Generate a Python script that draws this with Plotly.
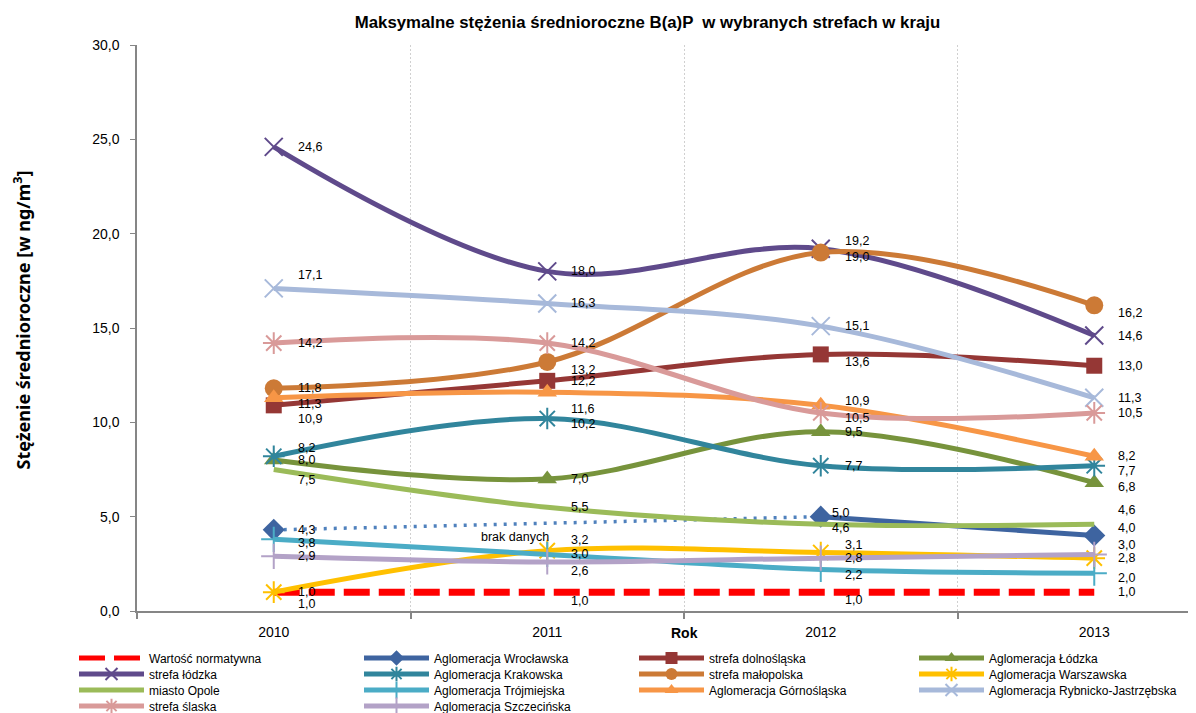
import plotly.graph_objects as go

years = [2010, 2011, 2012, 2013]

norma = [1.0, 1.0, 1.0, 1.0]
wroclawska = [4.3, None, 5.0, 4.0]
dolnoslaska = [10.9, 12.2, 13.6, 13.0]
lodzka_aglo = [8.0, 7.0, 9.5, 6.8]
lodzka_strefa = [24.6, 18.0, 19.2, 14.6]
krakowska = [8.2, 10.2, 7.7, 7.7]
malopolska = [11.8, 13.2, 19.0, 16.2]
warszawska = [1.0, 3.2, 3.1, 2.8]
opole = [7.5, 5.5, 4.6, 4.6]
trojmiejska = [3.8, 3.0, 2.2, 2.0]
gornoslaska = [11.3, 11.6, 10.9, 8.2]
rybnicko = [17.1, 16.3, 15.1, 11.3]
slaska = [14.2, 14.2, 10.5, 10.5]
szczecinska = [2.9, 2.6, 2.8, 3.0]

series = [
    ("Wartość normatywna", norma),
    ("Aglomeracja Wrocławska", wroclawska),
    ("strefa dolnośląska", dolnoslaska),
    ("Aglomeracja Łódzka", lodzka_aglo),
    ("strefa łódzka", lodzka_strefa),
    ("Aglomeracja Krakowska", krakowska),
    ("strefa małopolska", malopolska),
    ("Aglomeracja Warszawska", warszawska),
    ("miasto Opole", opole),
    ("Aglomeracja Trójmiejska", trojmiejska),
    ("Aglomeracja Górnośląska", gornoslaska),
    ("Aglomeracja Rybnicko-Jastrzębska", rybnicko),
    ("strefa ślaska", slaska),
    ("Aglomeracja Szczecińska", szczecinska),
]

# color, marker symbol, marker size
style = {
    "Wartość normatywna": ("#FF0000", None, 0),
    "Aglomeracja Wrocławska": ("#3E64A0", "diamond", 17),
    "strefa dolnośląska": ("#953735", "square", 16),
    "Aglomeracja Łódzka": ("#77933C", "triangle-up", 17),
    "strefa łódzka": ("#5F4A8B", "x-thin-open", 18),
    "Aglomeracja Krakowska": ("#31859C", "asterisk-open", 18),
    "strefa małopolska": ("#CC7A36", "circle", 18),
    "Aglomeracja Warszawska": ("#FFC000", "asterisk-open", 18),
    "miasto Opole": ("#9BBB59", None, 0),
    "Aglomeracja Trójmiejska": ("#4BACC6", "cross-thin-open", 18),
    "Aglomeracja Górnośląska": ("#F79646", "triangle-up", 17),
    "Aglomeracja Rybnicko-Jastrzębska": ("#A7B9DA", "x-thin-open", 18),
    "strefa ślaska": ("#D99A99", "asterisk-open", 18),
    "Aglomeracja Szczecińska": ("#B3A2C7", "cross-thin-open", 18),
}

# label nudges (dx, dy in px; dy>0 moves label down)
nudge = {
    ("Aglomeracja Rybnicko-Jastrzębska", 0): (0, -13),
    ("Aglomeracja Górnośląska", 0): (0, 6),
    ("strefa dolnośląska", 0): (0, 14),
    ("Aglomeracja Krakowska", 0): (0, -8),
    ("miasto Opole", 0): (0, 10),
    ("Wartość normatywna", 0): (0, 12),
    ("Aglomeracja Trójmiejska", 0): (0, 4),
    ("strefa małopolska", 1): (0, 8),
    ("Aglomeracja Górnośląska", 1): (0, 17),
    ("Aglomeracja Krakowska", 1): (0, 5),
    ("Aglomeracja Warszawska", 1): (0, -11),
    ("Aglomeracja Szczecińska", 1): (0, 9),
    ("Wartość normatywna", 1): (0, 9),
    ("strefa łódzka", 2): (0, -8),
    ("strefa małopolska", 2): (0, 4),
    ("strefa dolnośląska", 2): (0, 8),
    ("Aglomeracja Górnośląska", 2): (0, -4),
    ("strefa ślaska", 2): (0, 5),
    ("Aglomeracja Wrocławska", 2): (-13, -4),
    ("miasto Opole", 2): (-13, 4),
    ("Aglomeracja Warszawska", 2): (0, -8),
    ("Aglomeracja Trójmiejska", 2): (0, 6),
    ("Wartość normatywna", 2): (0, 8),
    ("strefa małopolska", 3): (0, 8),
    ("Aglomeracja Krakowska", 3): (0, 5),
    ("Aglomeracja Łódzka", 3): (0, 4),
    ("miasto Opole", 3): (0, -14),
    ("Aglomeracja Wrocławska", 3): (0, -8),
    ("Aglomeracja Szczecińska", 3): (0, -9),
    ("Aglomeracja Trójmiejska", 3): (0, 5),
}

LABEL_FONT = dict(family="Liberation Sans, Arial", size=12.5, color="#000000")

# page has an 8px body margin, so the figure is sized to fit inside it
W, H = 1188, 705

fig = go.Figure()

# dotted link across missing 2011 value (Wrocław)
known = [(x, y) for x, y in zip(years, wroclawska) if y is not None]
fig.add_trace(go.Scatter(
    x=[known[0][0], known[1][0]], y=[known[0][1], known[1][1]],
    mode="lines", line=dict(color="#4F81BD", width=3.5, dash="3px,7px"),
    showlegend=False, hoverinfo="skip",
))

# one small legend per entry, laid out as a 4-column grid
col_px = [74, 359, 634, 914]
row_px = [658, 674, 690, 706]
legend_base = dict(
    orientation="h", xref="container", xanchor="left", yanchor="middle",
    itemwidth=65, itemsizing="constant",
    font=dict(family="Liberation Sans, Arial", size=12, color="#000000"),
    bgcolor="rgba(0,0,0,0)",
)
legends = {}

annotations = []
for k, (name, vals) in enumerate(series):
    color, sym, size = style[name]
    leg = "legend" if k == 0 else f"legend{k + 1}"
    legends[leg] = dict(legend_base, x=(col_px[k % 4] - 8) / W,
                        y=(611 - row_px[k // 4]) / 566)
    if name == "Wartość normatywna":
        fig.add_trace(go.Scatter(
            x=years, y=vals, name=name, mode="lines", legend=leg,
            line=dict(color=color, width=7, dash="26px,9px"),
        ))
    elif sym is None:
        fig.add_trace(go.Scatter(
            x=years, y=vals, name=name, mode="lines", legend=leg,
            line=dict(color=color, width=5, shape="spline", smoothing=1),
        ))
    else:
        open_sym = sym.endswith("open")
        fig.add_trace(go.Scatter(
            x=years, y=vals, name=name, mode="lines+markers", legend=leg,
            line=dict(color=color, width=5, shape="spline", smoothing=1),
            marker=dict(symbol=sym, size=size, color=color,
                        line=dict(color=color, width=2 if open_sym else 0)),
        ))
    for i, v in enumerate(vals):
        if v is None:
            continue
        dx, dy = nudge.get((name, i), (0, 0))
        annotations.append(dict(
            x=years[i], y=v, xref="x", yref="y",
            text=f"{v:.1f}".replace(".", ","), showarrow=False,
            xanchor="left", yanchor="middle", xshift=22 + dx, yshift=-dy,
            font=LABEL_FONT,
        ))

annotations.append(dict(
    x=2011, y=3.9, xref="x", yref="y", text="brak danych", showarrow=False,
    xanchor="right", yanchor="middle", xshift=4, font=LABEL_FONT,
))
annotations.append(dict(
    x=2011.5, y=-0.039, xref="x", yref="paper", text="<b>Rok</b>", showarrow=False,
    xanchor="center", yanchor="middle",
    font=dict(family="Liberation Sans, Arial", size=14, color="#000000"),
))
annotations.append(dict(
    x=-0.1086, y=0.515, xref="paper", yref="paper", textangle=-90,
    text="<b>Stężenie średnioroczne [w ng/m<sup>3</sup>]</b>", showarrow=False,
    xanchor="center", yanchor="middle",
    font=dict(family="Noto Sans, Arial", size=18, color="#000000"),
))

fig.update_layout(
    width=W, height=H,
    margin=dict(l=129, r=0, t=37, b=102, autoexpand=False),
    paper_bgcolor="white", plot_bgcolor="white",
    separators=", ",
    title=dict(
        text="<b>Maksymalne stężenia średnioroczne B(a)P  w wybranych strefach w kraju</b>",
        x=639.5 / W, xref="container", xanchor="center", y=1 - 14 / H, yanchor="middle",
        font=dict(family="Liberation Sans, Arial", size=16.8, color="#000000"),
    ),
    font=dict(family="Liberation Sans, Arial", size=14, color="#000000"),
    xaxis=dict(
        range=[2009.5, 2013.372], tickvals=years, ticktext=[str(y) for y in years],
        showgrid=False, zeroline=False, showline=True, linecolor="#868686", linewidth=2,
        ticks="", tickfont=dict(size=14), ticklabelstandoff=7,
        minor=dict(tickvals=[2009.5, 2010.5, 2011.5, 2012.5], showgrid=True,
                   gridcolor="#D0D0D0", griddash="2px,2px", gridwidth=1,
                   ticks="outside", ticklen=6, tickcolor="#868686", tickwidth=1.5),
    ),
    yaxis=dict(
        range=[0, 30], dtick=5, tickformat=".1f", showgrid=False, zeroline=False,
        showline=True, linecolor="#868686", linewidth=1.5,
        ticks="outside", ticklen=5, tickcolor="#868686", tickfont=dict(size=14),
        ticklabelstandoff=8,
    ),
    annotations=annotations,
    showlegend=True,
    **legends,
)

fig.write_html("out.html")
